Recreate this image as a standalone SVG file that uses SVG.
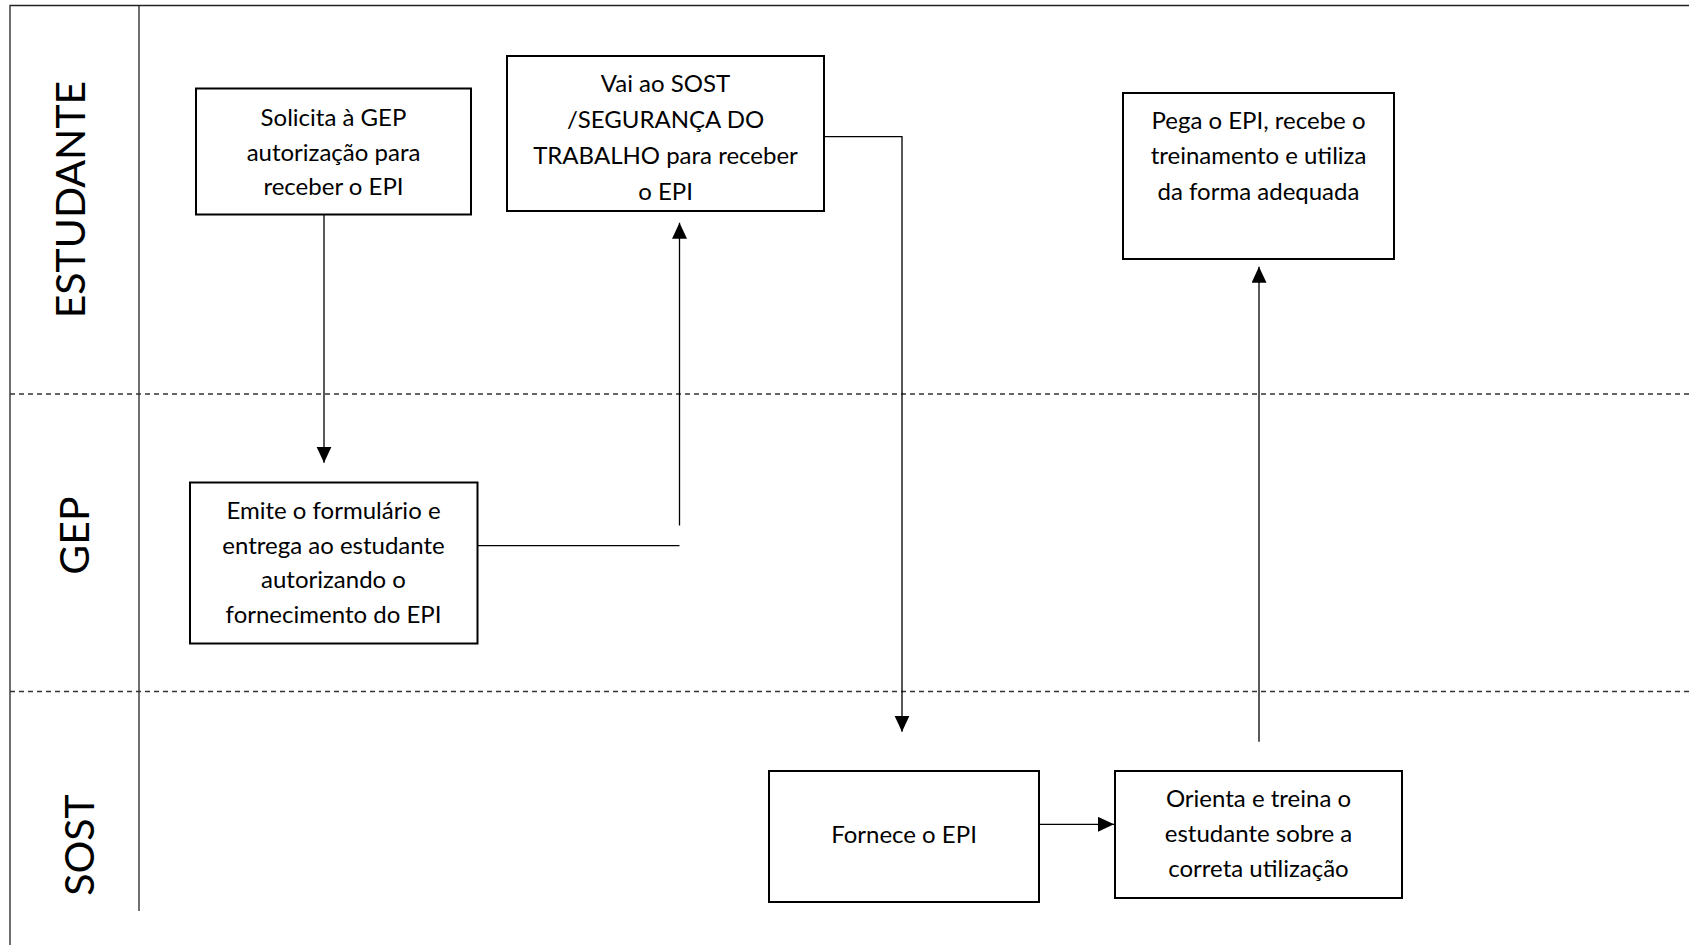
<svg xmlns="http://www.w3.org/2000/svg" width="1689" height="945" viewBox="0 0 1689 945">
  <style>
    .lane { stroke: #222; stroke-width: 1.3; fill: none; }
    .sep { stroke: #333; stroke-width: 1.3; stroke-dasharray: 5 4; fill: none; }
    .box { fill: #fff; stroke: #000; stroke-width: 2; }
    .t { font-family: Lato, "Liberation Sans", sans-serif; font-size: 24px; fill: #000; text-anchor: middle; }
    .lbl { font-family: Lato, "Liberation Sans", sans-serif; font-size: 41px; fill: #000; text-anchor: middle; }
    .con { stroke: #000; stroke-width: 1.3; fill: none; }
  </style>
  <defs>
    <marker id="arr" markerUnits="userSpaceOnUse" markerWidth="17" markerHeight="16" refX="16" refY="7.5" orient="auto">
      <path d="M0,0 L16,7.5 L0,15 z" fill="#000"/>
    </marker>
  </defs>
  <rect width="1689" height="945" fill="#fff"/>

  <g id="lanes">
    <path class="lane" d="M10,945 V5.5 H1689"/>
    <path class="lane" d="M139,5.5 V911"/>
    <path class="sep" d="M10,394 H1689"/>
    <path class="sep" d="M10,691.5 H1689"/>
    <text class="lbl" transform="translate(85,199.5) rotate(-90)">ESTUDANTE</text>
    <text class="lbl" transform="translate(89,535.5) rotate(-90)">GEP</text>
    <text class="lbl" transform="translate(94,845) rotate(-90)">SOST</text>
  </g>

  <g id="connectors">
    <path class="con" d="M324,215 V462.7" marker-end="url(#arr)"/>
    <path class="con" d="M475,545.7 H679.5"/>
    <path class="con" d="M679.5,525.5 V222.7" marker-end="url(#arr)"/>
    <path class="con" d="M824,136.7 H902 V731.7" marker-end="url(#arr)"/>
    <path class="con" d="M1039,824.3 H1114" marker-end="url(#arr)"/>
    <path class="con" d="M1259,741.7 V266.7" marker-end="url(#arr)"/>
  </g>

  <g id="n-solicita">
    <rect class="box" x="196" y="88.5" width="275" height="126"/>
    <text class="t" x="333.5" y="126">Solicita à GEP</text>
    <text class="t" x="333.5" y="160.5">autorização para</text>
    <text class="t" x="333.5" y="195">receber o EPI</text>
  </g>

  <g id="n-vai">
    <rect class="box" x="507" y="56" width="317" height="155"/>
    <text class="t" x="665.5" y="91.5">Vai ao SOST</text>
    <text class="t" x="665.5" y="127.5">/SEGURANÇA DO</text>
    <text class="t" x="665.5" y="163.5">TRABALHO para receber</text>
    <text class="t" x="665.5" y="199.5">o EPI</text>
  </g>

  <g id="n-pega">
    <rect class="box" x="1123" y="93" width="271" height="166"/>
    <text class="t" x="1258.5" y="128.5">Pega o EPI, recebe o</text>
    <text class="t" x="1258.5" y="164">treinamento e utiliza</text>
    <text class="t" x="1258.5" y="199.5">da forma adequada</text>
  </g>

  <g id="n-emite">
    <rect class="box" x="190" y="482.5" width="287.5" height="161"/>
    <text class="t" x="333.5" y="518.5">Emite o formulário e</text>
    <text class="t" x="333.5" y="553.5">entrega ao estudante</text>
    <text class="t" x="333.5" y="588">autorizando o</text>
    <text class="t" x="333.5" y="623">fornecimento do EPI</text>
  </g>

  <g id="n-fornece">
    <rect class="box" x="769" y="771" width="270" height="131"/>
    <text class="t" x="904" y="843">Fornece o EPI</text>
  </g>

  <g id="n-orienta">
    <rect class="box" x="1115" y="771" width="287" height="127"/>
    <text class="t" x="1258.5" y="807">Orienta e treina o</text>
    <text class="t" x="1258.5" y="842">estudante sobre a</text>
    <text class="t" x="1258.5" y="877">correta utilização</text>
  </g>
</svg>
